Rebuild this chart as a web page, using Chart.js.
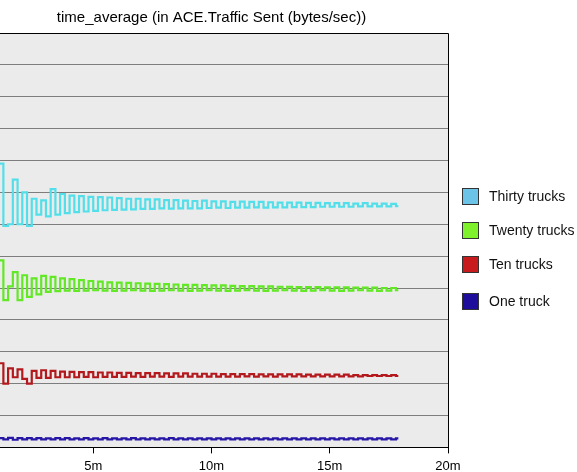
<!DOCTYPE html>
<html>
<head>
<meta charset="utf-8">
<script src="https://cdn.jsdelivr.net/npm/chart.js@4/dist/chart.umd.min.js"></script>
<style>
html, body { margin:0; padding:0; background:#fff; overflow:hidden; }
#wrap { position:relative; width:577px; height:472px; overflow:hidden; }
#chart { position:absolute; left:-25px; top:0; }
.leg { position:absolute; left:462px; height:17px; font:14px Arial, "Liberation Sans", sans-serif; color:#111; white-space:nowrap; }
.leg .box { position:absolute; left:0; top:0; width:15px; height:15px; border:1px solid #333; }
.leg .txt { position:absolute; left:27px; top:0; line-height:17px; }
</style>
</head>
<body>
<div id="wrap">
<canvas id="chart" width="603" height="479"></canvas>
<div id="legend"></div>
</div>
<script>
// время, мин (шаг выборки 0.2 мин)
let times = [
  1.0,1.2,1.4,1.6,1.8,2.0,2.2,2.4,2.6,2.8,
  3.0,3.2,3.4,3.6,3.8,4.0,4.2,4.4,4.6,4.8,
  5.0,5.2,5.4,5.6,5.8,6.0,6.2,6.4,6.6,6.8,
  7.0,7.2,7.4,7.6,7.8,8.0,8.2,8.4,8.6,8.8,
  9.0,9.2,9.4,9.6,9.8,10.0,10.2,10.4,10.6,10.8,
  11.0,11.2,11.4,11.6,11.8,12.0,12.2,12.4,12.6,12.8,
  13.0,13.2,13.4,13.6,13.8,14.0,14.2,14.4,14.6,14.8,
  15.0,15.2,15.4,15.6,15.8,16.0,16.2,16.4,16.6,16.8,
  17.0,17.2,17.4,17.6,17.8,17.9
];

// значения в делениях сетки (подписи оси Y обрезаны)
let thirty = [
  8.9,6.95,7.0,8.4,7.0,8.0,6.95,7.8,7.3,7.75,
  7.25,8.1,7.3,7.95,7.35,7.9,7.38,7.88,7.4,7.86,
  7.42,7.85,7.44,7.84,7.45,7.82,7.46,7.8,7.47,7.8,
  7.48,7.78,7.48,7.78,7.5,7.76,7.49,7.76,7.5,7.74,
  7.5,7.73,7.5,7.74,7.51,7.72,7.52,7.72,7.51,7.7,
  7.52,7.71,7.52,7.7,7.53,7.7,7.52,7.69,7.53,7.68,
  7.53,7.68,7.54,7.68,7.54,7.67,7.54,7.67,7.55,7.66,
  7.55,7.66,7.55,7.66,7.55,7.65,7.56,7.66,7.56,7.65,
  7.56,7.65,7.56,7.64,7.57,7.57
];
let twenty = [
  5.87,4.62,5.05,5.5,4.62,5.4,4.72,5.3,4.8,5.38,
  4.88,5.35,4.9,5.3,4.92,5.28,4.91,5.25,4.92,5.22,
  4.93,5.2,4.92,5.18,4.91,5.17,4.92,5.16,4.93,5.15,
  4.92,5.14,4.91,5.13,4.92,5.12,4.93,5.11,4.92,5.1,
  4.91,5.1,4.92,5.09,4.93,5.08,4.92,5.08,4.91,5.07,
  4.92,5.06,4.93,5.06,4.92,5.05,4.91,5.05,4.92,5.04,
  4.93,5.04,4.92,5.03,4.91,5.03,4.92,5.03,4.93,5.02,
  4.92,5.02,4.91,5.02,4.92,5.01,4.93,5.01,4.92,5.01,
  4.91,5.0,4.92,5.0,4.93,4.93
];
let ten = [
  2.64,2.0,2.48,2.2,2.45,2.15,2.0,2.4,2.18,2.42,
  2.18,2.4,2.2,2.38,2.2,2.37,2.2,2.36,2.21,2.36,
  2.2,2.35,2.21,2.35,2.21,2.34,2.21,2.34,2.22,2.33,
  2.21,2.33,2.22,2.33,2.22,2.32,2.21,2.32,2.22,2.32,
  2.22,2.31,2.22,2.31,2.22,2.31,2.22,2.3,2.22,2.3,
  2.22,2.3,2.23,2.3,2.22,2.29,2.23,2.29,2.22,2.29,
  2.23,2.29,2.23,2.29,2.23,2.28,2.23,2.28,2.23,2.28,
  2.23,2.28,2.23,2.28,2.23,2.27,2.23,2.27,2.24,2.27,
  2.24,2.27,2.24,2.27,2.24,2.24
];
let one = [
  0.29,0.25,0.3,0.24,0.29,0.25,0.29,0.25,0.29,0.25,
  0.28,0.25,0.29,0.25,0.29,0.25,0.28,0.25,0.29,0.25,
  0.28,0.25,0.29,0.25,0.28,0.25,0.28,0.25,0.29,0.25,
  0.28,0.25,0.28,0.25,0.28,0.25,0.29,0.25,0.28,0.25,
  0.28,0.25,0.28,0.25,0.28,0.25,0.28,0.25,0.28,0.25,
  0.28,0.25,0.28,0.25,0.28,0.25,0.28,0.25,0.28,0.25,
  0.28,0.25,0.28,0.25,0.28,0.25,0.28,0.25,0.28,0.25,
  0.28,0.25,0.28,0.25,0.28,0.25,0.28,0.25,0.28,0.25,
  0.28,0.25,0.28,0.25,0.28,0.28
];

let names = ['Thirty trucks','Twenty trucks','Ten trucks','One truck'];
let series = [thirty, twenty, ten, one];
let lineColors = ['#52dfe9','#62e824','#b3191c','#2516a6'];
let boxColors = ['#6cc3e8','#7ef02c','#c81b1e','#1f0e9c'];
let xTicks = [5, 10, 15, 20];

let FONT = 'Arial, "Liberation Sans", sans-serif';

// фон области графика и рамка сверху/справа
let plotFrame = {
  id: 'plotFrame',
  beforeDraw(chart) {
    let a = chart.chartArea, ctx = chart.ctx;
    ctx.save();
    ctx.fillStyle = '#ebebeb';
    ctx.fillRect(a.left, a.top, a.right - a.left, a.bottom - a.top);
    ctx.restore();
  },
  afterDraw(chart) {
    let a = chart.chartArea, ctx = chart.ctx;
    ctx.save();
    ctx.strokeStyle = '#000';
    ctx.lineWidth = 1;
    ctx.beginPath();
    ctx.moveTo(a.left, Math.round(a.top) + 0.5);
    ctx.lineTo(Math.round(a.right) + 0.5, Math.round(a.top) + 0.5);
    ctx.lineTo(Math.round(a.right) + 0.5, a.bottom);
    ctx.stroke();
    ctx.restore();
  }
};

let datasets = [];
for (let j = 0; j < series.length; j++) {
  datasets.push({
    label: names[j],
    data: times.map((t, i) => ({x: t, y: series[j][i]})),
    borderColor: lineColors[j],
    backgroundColor: lineColors[j],
    borderWidth: 2.2,
    pointRadius: 0,
    stepped: true,
    fill: false
  });
}

let chart = new Chart(document.getElementById('chart').getContext('2d'), {
  type: 'line',
  data: { datasets: datasets },
  options: {
    responsive: false,
    animation: false,
    devicePixelRatio: 1,
    layout: { padding: { left: 0, right: 130, top: 0, bottom: 0 } },
    plugins: {
      legend: { display: false },
      tooltip: { enabled: false },
      title: {
        display: true,
        text: 'time_average (in ACE.Traffic Sent (bytes/sec))',
        fullSize: false,
        color: '#000',
        font: { family: FONT, size: 15, weight: 'normal' },
        padding: { top: 9, bottom: 6 }
      }
    },
    scales: {
      x: {
        type: 'linear',
        min: 0,
        max: 20,
        afterBuildTicks: s => { s.ticks = xTicks.map(v => ({ value: v })); },
        ticks: {
          callback: v => v + 'm',
          color: '#000',
          font: { family: FONT, size: 13 },
          padding: 5,
          maxRotation: 0,
          autoSkip: false
        },
        grid: { drawOnChartArea: false, drawTicks: true, tickLength: 6, color: '#000' },
        border: { color: '#000', width: 1 }
      },
      y: {
        min: 0,
        max: 13,
        ticks: { display: false, stepSize: 1 },
        grid: { color: '#7d7d7d', drawTicks: false },
        border: { display: false }
      }
    }
  },
  plugins: [plotFrame]
});

// легенда справа
let legendTops = [188, 222, 256, 293];
let leg = document.getElementById('legend');
for (let j = 0; j < names.length; j++) {
  let d = document.createElement('div');
  d.className = 'leg';
  d.style.top = legendTops[j] + 'px';
  d.innerHTML = '<span class="box" style="background:' + boxColors[j] + '"></span><span class="txt">' + names[j] + '</span>';
  leg.appendChild(d);
}
</script>
</body>
</html>
